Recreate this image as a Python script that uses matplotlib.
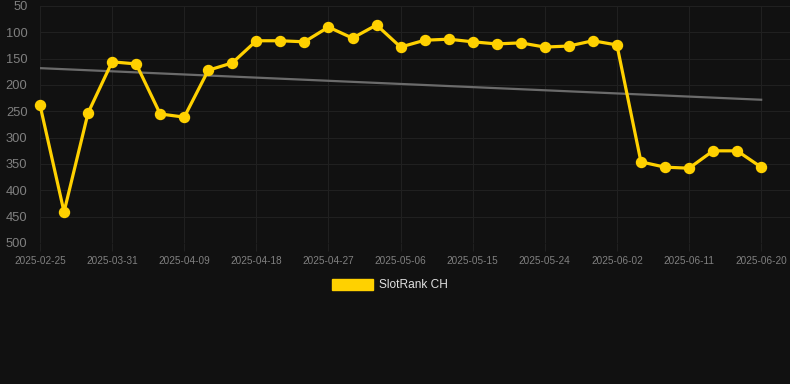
import numpy as np
import matplotlib.pyplot as plt
from matplotlib.patches import Patch

plt.rcParams["font.family"] = ["Liberation Sans", "DejaVu Sans"]

dates = ["2025-02-25", "2025-03-07", "2025-03-19", "2025-03-31", "2025-04-03",
         "2025-04-06", "2025-04-09", "2025-04-12", "2025-04-15", "2025-04-18",
         "2025-04-21", "2025-04-24", "2025-04-27", "2025-04-30", "2025-05-03",
         "2025-05-06", "2025-05-09", "2025-05-12", "2025-05-15", "2025-05-18",
         "2025-05-21", "2025-05-24", "2025-05-27", "2025-05-30", "2025-06-02",
         "2025-06-05", "2025-06-08", "2025-06-11", "2025-06-14", "2025-06-17",
         "2025-06-20"]
rank = [238, 441, 253, 156, 160, 255, 261, 172, 158, 116,
        116, 118, 90, 111, 86, 128, 115, 113, 118, 122,
        120, 128, 126, 116, 124, 346, 356, 358, 325, 325,
        356]
trend_ends = [168, 228]

bg = "#111111"
yellow = "#FFD100"
grid_c = "#202020"

fig = plt.figure(figsize=(7.9, 3.84), dpi=100, facecolor=bg)
ax = fig.add_axes([40 / 790, 1 - 243 / 384, 750 / 790, 237 / 384])
ax.set_facecolor(bg)

x = np.arange(len(dates))
ax.plot([x[0], x[-1]], trend_ends, color="#6b6b6b", lw=1.6, zorder=2)
ax.plot(x, rank, color=yellow, lw=2.3, marker="o", ms=7.2, zorder=3, clip_on=False)

ax.set_ylim(500, 50)
ax.set_yticks(np.arange(50, 501, 50))
ax.set_xlim(0, 31.2)
ax.set_xticks(x[::3])
ax.set_xticklabels(dates[::3])

ax.grid(True, color=grid_c, lw=0.75)
ax.set_axisbelow(True)
for s in ax.spines.values():
    s.set_visible(False)
ax.tick_params(axis="y", colors="#808080", labelsize=9.3, length=0, pad=9)
ax.tick_params(axis="x", colors="#808080", labelsize=7.2, length=6, width=0.75, pad=3)
ax.tick_params(axis="x", color=grid_c)

fig.legend(handles=[Patch(facecolor=yellow, edgecolor=yellow)], labels=["SlotRank CH"],
           loc="center", bbox_to_anchor=(390 / 790, 1 - 285 / 384), frameon=False,
           labelcolor="#e0e0e0", fontsize=8.6, handlelength=3.5, handleheight=1.1,
           handletextpad=0.5)

fig.savefig("out.png", facecolor=bg)
